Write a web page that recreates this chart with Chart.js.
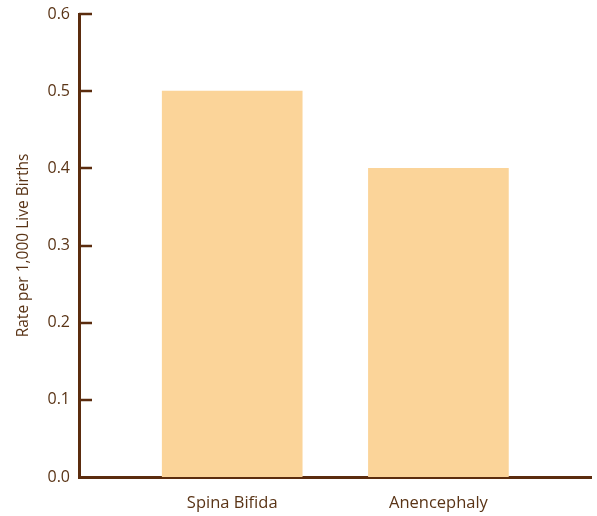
<!DOCTYPE html>
<html>
<head>
<meta charset="utf-8">
<script src="https://cdn.jsdelivr.net/npm/chart.js@4/dist/chart.umd.min.js"></script>
<style>
  html, body { margin: 0; padding: 0; background: #fff; }
  #wrap { width: 597px; height: 516px; }
</style>
</head>
<body>
<div id="wrap"><canvas id="ntdChart" width="597" height="516"></canvas></div>
<script>
// ===============================
// Data
// ===============================
const categories = ["Spina Bifida", "Anencephaly"];
const rates = [0.5, 0.4];
const yTicks = [0.0, 0.1, 0.2, 0.3, 0.4, 0.5, 0.6];

const brown = "#5b2c0e";
const textBrown = "#5a3416";
const barColor = "#fbd499";
const fontFamily = "'Open Sans', Lato, sans-serif";

// ===============================
// Inner tick marks on the y axis
// ===============================
const innerTicks = {
    id: "innerTicks",
    afterDraw(chart) {
        const ctx = chart.ctx;
        const y = chart.scales.y;
        const left = chart.chartArea.left;
        ctx.save();
        ctx.strokeStyle = brown;
        ctx.lineWidth = 2.5;
        yTicks.forEach(v => {
            if (v === 0) return;
            const py = Math.round(y.getPixelForValue(v));
            ctx.beginPath();
            ctx.moveTo(left, py);
            ctx.lineTo(left + 13, py);
            ctx.stroke();
        });
        ctx.restore();
    }
};

const ctx = document.getElementById("ntdChart").getContext("2d");

new Chart(ctx, {
    type: "bar",
    data: {
        datasets: [{
            data: categories.map((c, i) => ({ x: i + 1, y: rates[i] })),
            backgroundColor: barColor,
            borderWidth: 0,
            barThickness: 140
        }]
    },
    options: {
        responsive: false,
        animation: false,
        layout: { padding: { top: 14, right: 6, left: 0, bottom: 0 } },
        plugins: {
            legend: { display: false },
            tooltip: { enabled: false }
        },
        scales: {
            x: {
                type: "linear",
                offset: false,
                min: 0.257,
                max: 2.74,
                grid: { display: false, drawTicks: false, offset: false },
                border: { display: true, color: brown, width: 3 },
                afterBuildTicks: scale => {
                    scale.ticks = categories.map((c, i) => ({ value: i + 1 }));
                },
                afterFit: scale => {
                    scale.height = 39;
                    scale.paddingLeft = 0;
                    scale.paddingRight = 0;
                },
                ticks: {
                    padding: 16,
                    color: textBrown,
                    font: { family: fontFamily, size: 16.5 },
                    callback: v => categories[v - 1]
                }
            },
            y: {
                min: 0,
                max: 0.6,
                grid: { display: false, drawTicks: false },
                border: { display: true, color: brown, width: 3 },
                afterBuildTicks: scale => {
                    scale.ticks = yTicks.map(v => ({ value: v }));
                },
                afterFit: scale => {
                    scale.width = 79;
                    scale.paddingTop = 0;
                    scale.paddingBottom = 0;
                },
                ticks: {
                    padding: 9,
                    color: textBrown,
                    font: { family: fontFamily, size: 16 },
                    callback: v => v.toFixed(1)
                },
                title: {
                    display: true,
                    text: "Rate per 1,000 Live Births",
                    color: textBrown,
                    padding: { top: 14, bottom: 0 },
                    font: { family: fontFamily, size: 15.5 }
                }
            }
        }
    },
    plugins: [innerTicks]
});
</script>
</body>
</html>
